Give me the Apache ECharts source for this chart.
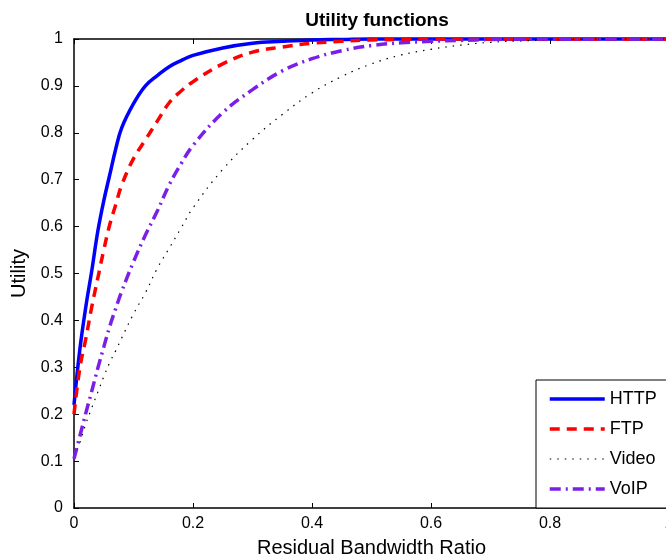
<!DOCTYPE html>
<html>
<head>
<meta charset="utf-8">
<script src="https://cdn.jsdelivr.net/npm/echarts@6/dist/echarts.min.js"></script>
<style>
html,body{margin:0;padding:0;background:#fff;}
#chart{width:666px;height:559px;}
</style>
</head>
<body>
<div id="chart"></div>
<script>
// Residual bandwidth ratio samples
var xs = [0, 0.01, 0.02, 0.03, 0.04, 0.05, 0.06, 0.07, 0.08, 0.10, 0.12, 0.14, 0.16, 0.18, 0.20, 0.25, 0.30, 0.35, 0.40, 0.45, 0.50, 0.55, 0.60, 0.65, 0.70, 0.75, 0.80, 0.90, 1.00];
var httpU  = [0.22, 0.34, 0.43, 0.507, 0.59, 0.655, 0.71, 0.765, 0.81, 0.862, 0.90, 0.922, 0.941, 0.954, 0.965, 0.981, 0.991, 0.995, 0.998, 0.999, 1, 1, 1, 1, 1, 1, 1, 1, 1];
var ftpU   = [0.20, 0.30, 0.362, 0.43, 0.49, 0.55, 0.604, 0.646, 0.688, 0.745, 0.785, 0.825, 0.864, 0.889, 0.909, 0.947, 0.972, 0.983, 0.991, 0.995, 0.998, 0.999, 1, 1, 1, 1, 1, 1, 1];
var videoU = [0.11, 0.14, 0.18, 0.214, 0.247, 0.28, 0.31, 0.335, 0.362, 0.414, 0.459, 0.511, 0.554, 0.597, 0.64, 0.722, 0.786, 0.839, 0.885, 0.92, 0.947, 0.966, 0.978, 0.987, 0.993, 0.996, 0.998, 1, 1];
var voipU  = [0.105, 0.154, 0.203, 0.25, 0.298, 0.343, 0.387, 0.425, 0.461, 0.525, 0.582, 0.633, 0.689, 0.734, 0.773, 0.843, 0.892, 0.932, 0.958, 0.975, 0.986, 0.992, 0.995, 0.997, 0.999, 1, 1, 1, 1];
var seriesNames = ['HTTP', 'FTP', 'Video', 'VoIP'];

function pairs(ys){ return xs.map(function(x,i){ return [x, ys[i]]; }); }

var FONT = 'Liberation Sans, Arial, sans-serif';
var chart = echarts.init(document.getElementById('chart'), null, {renderer:'canvas'});
var axisCommon = {
  axisLine:{show:true, onZero:false, lineStyle:{color:'#000', width:1.5}},
  axisTick:{show:true, inside:true, length:5, lineStyle:{color:'#000', width:1}},
  splitLine:{show:false}
};
var styles = {
  HTTP:  {color:'#0000FF', width:3.5, type:'solid'},
  FTP:   {color:'#FF0000', width:3.5, type:[10, 7]},
  Video: {color:'#000000', width:1.2, type:[1.5, 6]},
  VoIP:  {color:'#7B1FE8', width:3.5, type:[11, 5, 2, 5]}
};
var dataMap = {HTTP:httpU, FTP:ftpU, Video:videoU, VoIP:voipU};
chart.setOption({
  animation:false,
  backgroundColor:'#fff',
  title:{
    text:'Utility functions', left:372, top:6, textAlign:'center',
    textStyle:{fontFamily:FONT, fontWeight:'bold', fontSize:19, color:'#000'}
  },
  grid:{left:74, top:39, right:-3, bottom:51, containLabel:false, outerBoundsMode:'none'},
  xAxis:[
    Object.assign({}, axisCommon, {
      type:'value', min:0, max:1, interval:0.2, position:'bottom',
      name:'Residual Bandwidth Ratio', nameLocation:'middle', nameGap:30,
      nameTextStyle:{fontFamily:FONT, fontSize:20, color:'#000'},
      axisLabel:{fontFamily:FONT, fontSize:16, color:'#000', margin:8}
    }),
    Object.assign({}, axisCommon, {
      type:'value', min:0, max:1, interval:0.2, position:'top',
      axisLabel:{show:false}
    })
  ],
  yAxis:[
    Object.assign({}, axisCommon, {
      type:'value', min:0, max:1, interval:0.1, position:'left',
      name:'Utility', nameLocation:'middle', nameGap:44, nameRotate:90,
      nameTextStyle:{fontFamily:FONT, fontSize:20, color:'#000'},
      axisLabel:{fontFamily:FONT, fontSize:16, color:'#000', margin:11}
    })
  ],
  legend:{
    show:true,
    orient:'vertical', left:536, top:380,
    data:seriesNames.map(function(n){
      return {name:n, lineStyle:{width:styles[n].width, type:styles[n].type, color:styles[n].color}};
    }),
    itemWidth:55, itemHeight:14, itemGap:12,
    padding:[10, 40, 10, 12],
    borderColor:'#000', borderWidth:1, backgroundColor:'#fff',
    itemStyle:{opacity:0},
    textStyle:{fontFamily:FONT, fontSize:18, color:'#000'}
  },
  series:seriesNames.map(function(n){
    return {name:n, type:'line', data:pairs(dataMap[n]), showSymbol:false, symbol:'none', smooth:0.4, clip:false,
      lineStyle:{color:styles[n].color, width:styles[n].width, type:styles[n].type}, itemStyle:{color:styles[n].color}};
  })
});
</script>
</body>
</html>
